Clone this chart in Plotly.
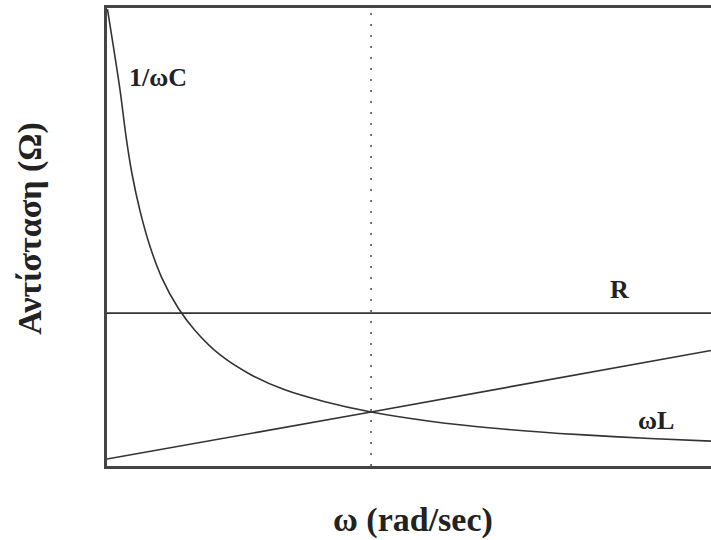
import plotly.graph_objects as go

# Frequency axis (resonance at omega = 1) and the plotted quantities
omega_cap = [0.1315, 0.173, 0.193, 0.212, 0.239, 0.272, 0.311,
             0.364, 0.420, 0.502, 0.601, 0.716, 0.848, 1.0, 1.194, 1.425,
             1.688, 1.919, 2.12]
x_cap = [8.46, 6.96, 6.09, 5.42, 4.72, 4.06, 3.48,
         2.93, 2.51, 2.06, 1.70, 1.41, 1.19, 1.0, 0.83, 0.69,
         0.58, 0.51, 0.46]                                    # 1/ωC

omega_ind = [0.13, 1.0, 2.12]
x_ind = [0.13, 1.0, 2.14]                                     # ωL

omega_res = [0.13, 2.12]
resistance = [2.83, 2.83]                                     # R

omega_0 = 1.0
x_range = [0.13, 2.12]
y_range = [0, 8.48]

line_col = "#333333"
axis_col = "#444444"
text_col = "#222222"
serif = "Liberation Serif, Times New Roman, serif"

fig = go.Figure()
fig.add_trace(go.Scatter(x=omega_cap, y=x_cap, mode="lines",
                         line=dict(color=line_col, width=1.6, shape="spline", smoothing=0.8),
                         hoverinfo="skip"))
fig.add_trace(go.Scatter(x=omega_ind, y=x_ind, mode="lines",
                         line=dict(color=line_col, width=1.6), hoverinfo="skip"))
fig.add_trace(go.Scatter(x=omega_res, y=resistance, mode="lines",
                         line=dict(color=line_col, width=1.6), hoverinfo="skip"))

# Resonance marker
fig.add_shape(type="line", xref="x", yref="paper", x0=omega_0, x1=omega_0, y0=0, y1=1,
              line=dict(color="#555555", width=1.6, dash="2px,9px"))

labels = [("1/ωC", 0.298, 7.19), ("R", 1.82, 3.26), ("ωL", 1.939, 0.85)]
for txt, lx, ly in labels:
    fig.add_annotation(x=lx, y=ly, text=f"<b>{txt}</b>", showarrow=False,
                       font=dict(family=serif, size=26, color=text_col))

# Axis titles
fig.add_annotation(xref="paper", yref="paper", x=0.507, y=-0.118,
                   text="<b>ω (rad/sec)</b>", showarrow=False,
                   xanchor="center", yanchor="middle",
                   font=dict(family=serif, size=34, color=text_col))
fig.add_annotation(xref="paper", yref="paper", x=-0.1275, y=0.52,
                   text="<b>Αντίσταση (Ω)</b>", showarrow=False, textangle=-90,
                   xanchor="center", yanchor="middle",
                   font=dict(family=serif, size=34, color=text_col))

fig.update_layout(
    width=711, height=540,
    margin=dict(l=107, r=0, t=8, b=74),
    paper_bgcolor="white", plot_bgcolor="white",
    showlegend=False,
    xaxis=dict(range=x_range, showgrid=False, zeroline=False, showticklabels=False,
               ticks="", showline=True, linecolor=axis_col, linewidth=2.5, mirror=True),
    yaxis=dict(range=y_range, showgrid=False, zeroline=False, showticklabels=False,
               ticks="", showline=True, linecolor=axis_col, linewidth=2.5),
)

fig.write_html("out.html")
